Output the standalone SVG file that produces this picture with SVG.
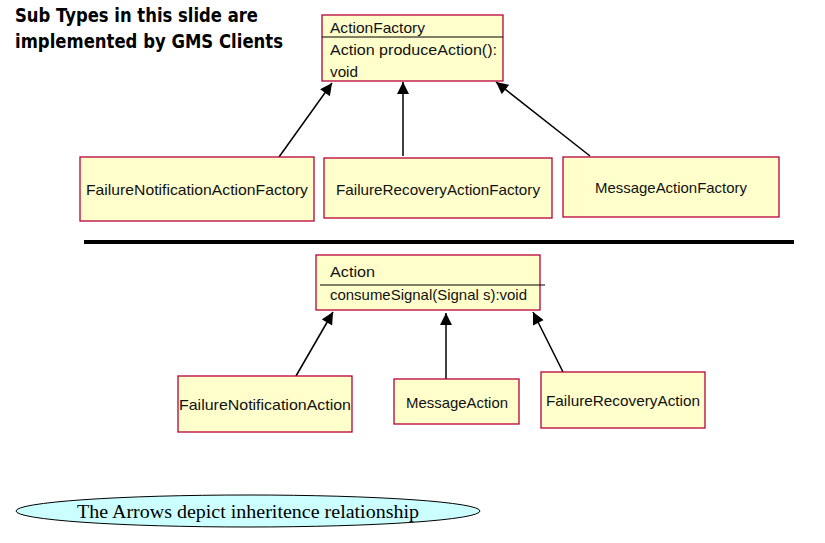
<svg xmlns="http://www.w3.org/2000/svg" width="825" height="543" viewBox="0 0 825 543">
<defs>
<style>
.box{fill:#ffffcc;stroke:#b8003a;stroke-width:1.3}
.t{font-family:"Liberation Sans","DejaVu Sans",sans-serif;font-size:15px;fill:#111}
.c{text-anchor:middle}
.title{font-family:"DejaVu Sans","Liberation Sans",sans-serif;font-size:19px;font-weight:bold;fill:#000}
.div{stroke:#000;stroke-width:1.2}
.arr{stroke:#000;stroke-width:1.5;fill:none;marker-end:url(#ah)}
</style>
<marker id="ah" viewBox="0 0 10 10" refX="10" refY="5" markerWidth="13" markerHeight="12" markerUnits="userSpaceOnUse" orient="auto"><path d="M0,0 L10,5 L0,10 z" fill="#000"/></marker>
</defs>
<rect width="825" height="543" fill="#fff"/>
<g id="title">
<text class="title" x="15" y="22" textLength="243" lengthAdjust="spacingAndGlyphs">Sub Types in this slide are</text>
<text class="title" x="15" y="48" textLength="268" lengthAdjust="spacingAndGlyphs">implemented by GMS Clients</text>
</g>
<g id="connectors">
<line class="arr" x1="279" y1="157" x2="332" y2="83"/>
<line class="arr" x1="403" y1="156" x2="403" y2="82"/>
<line class="arr" x1="590" y1="156" x2="496" y2="82"/>
<line class="arr" x1="296" y1="376" x2="333" y2="312"/>
<line class="arr" x1="446" y1="379" x2="446" y2="313"/>
<line class="arr" x1="563" y1="372" x2="533" y2="312"/>
</g>
<g id="ActionFactory">
<rect class="box" x="322" y="15" width="181" height="66"/>
<line class="div" x1="322" y1="37" x2="503" y2="37"/>
<text class="t" x="330" y="33" textLength="95" lengthAdjust="spacingAndGlyphs">ActionFactory</text>
<text class="t" x="330" y="55" textLength="167" lengthAdjust="spacingAndGlyphs">Action produceAction():</text>
<text class="t" x="330" y="77" textLength="28" lengthAdjust="spacingAndGlyphs">void</text>
</g>
<g id="FailureNotificationActionFactory">
<rect class="box" x="80" y="157" width="234" height="64"/>
<text class="t c" x="197" y="195" textLength="222" lengthAdjust="spacingAndGlyphs">FailureNotificationActionFactory</text>
</g>
<g id="FailureRecoveryActionFactory">
<rect class="box" x="324" y="158" width="228" height="60"/>
<text class="t c" x="438" y="195" textLength="204" lengthAdjust="spacingAndGlyphs">FailureRecoveryActionFactory</text>
</g>
<g id="MessageActionFactory">
<rect class="box" x="563" y="157" width="216" height="60"/>
<text class="t c" x="671" y="193" textLength="152" lengthAdjust="spacingAndGlyphs">MessageActionFactory</text>
</g>
<g id="separator">
<line x1="84" y1="242" x2="794" y2="242" stroke="#000" stroke-width="4"/>
</g>
<g id="Action">
<rect class="box" x="316" y="255" width="224" height="55"/>
<line class="div" x1="320" y1="285" x2="545" y2="285"/>
<text class="t" x="330" y="277" textLength="45" lengthAdjust="spacingAndGlyphs">Action</text>
<text class="t" x="330" y="300" textLength="197" lengthAdjust="spacingAndGlyphs">consumeSignal(Signal s):void</text>
</g>
<g id="FailureNotificationAction">
<rect class="box" x="178" y="376" width="174" height="56"/>
<text class="t c" x="265" y="410" textLength="172" lengthAdjust="spacingAndGlyphs">FailureNotificationAction</text>
</g>
<g id="MessageAction">
<rect class="box" x="394" y="379" width="125" height="45"/>
<text class="t c" x="457" y="408" textLength="102" lengthAdjust="spacingAndGlyphs">MessageAction</text>
</g>
<g id="FailureRecoveryAction">
<rect class="box" x="541" y="372" width="164" height="56"/>
<text class="t c" x="623" y="406" textLength="154" lengthAdjust="spacingAndGlyphs">FailureRecoveryAction</text>
</g>
<g id="note">
<ellipse cx="248" cy="511" rx="232" ry="16" fill="#ccffff" stroke="#000" stroke-width="1"/>
<text x="248" y="518" text-anchor="middle" font-family="'Liberation Serif',serif" font-size="19" fill="#000" textLength="342" lengthAdjust="spacingAndGlyphs">The Arrows depict inheritence relationship</text>
</g>
</svg>
